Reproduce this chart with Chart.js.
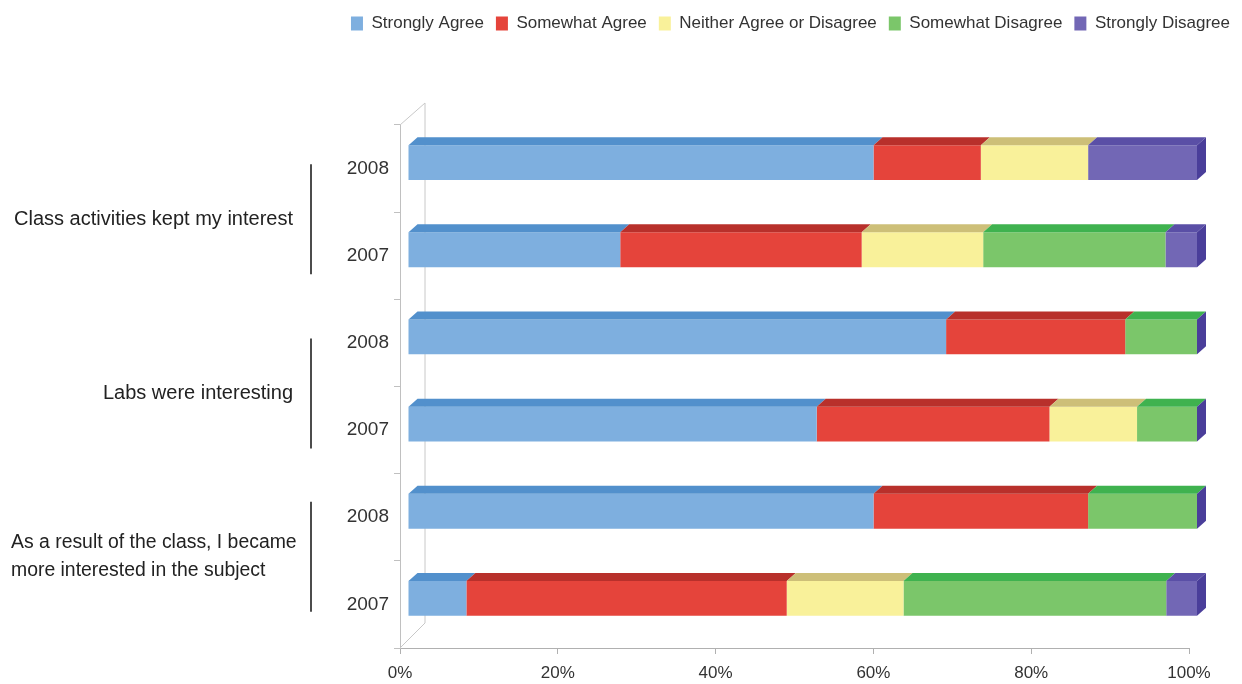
<!DOCTYPE html>
<html>
<head>
<meta charset="utf-8">
<script src="https://cdn.jsdelivr.net/npm/chart.js@4/dist/chart.umd.min.js"></script>
<style>
  body { margin: 0; background: #fff; }
  #wrap { width: 1242px; height: 684px; position: relative; }
</style>
</head>
<body>
<div id="wrap"><canvas id="bar-chart"></canvas></div>
<script>
// years on the axis, questions grouped two years each
const years = ['2008', '2007', '2008', '2007', '2008', '2007'];
const questions = [
  ['Class activities kept my interest'],
  ['Labs were interesting'],
  ['As a result of the class, I became', 'more interested in the subject']
];
const seriesNames = ['Strongly Agree', 'Somewhat Agree', 'Neither Agree or Disagree', 'Somewhat Disagree', 'Strongly Disagree'];

const stronglyAgree     = [59.0, 26.9, 68.2, 51.8, 59.0, 7.4];
const somewhatAgree     = [13.6, 30.6, 22.7, 29.5, 27.2, 40.6];
const neitherAgree      = [13.6, 15.4, 0, 11.1, 0, 14.8];
const somewhatDisagree  = [0, 23.1, 9.1, 7.6, 13.8, 33.3];
const stronglyDisagree  = [13.8, 4.0, 0, 0, 0, 3.9];

const xTicks = [0, 20, 40, 60, 80, 100];

const frontColors = ['#7eafdf', '#e5443b', '#f9f19a', '#7bc66a', '#7267b5'];
const topColors   = ['#5290cc', '#b8302b', '#cdbf78', '#3fb24f', '#5a4fa6'];
const sideColor   = '#4a3e9a';

const FONT = "'Liberation Sans', Arial, sans-serif";
const DX = 9, DY = 8;

const allSeries = [stronglyAgree, somewhatAgree, neitherAgree, somewhatDisagree, stronglyDisagree];

const threeD = {
  id: 'threeD',
  beforeDatasetsDraw(chart) {
    const ctx = chart.ctx, a = chart.chartArea;
    // back wall + floor edge
    ctx.save();
    ctx.strokeStyle = '#c8c8c8';
    ctx.lineWidth = 1;
    ctx.beginPath();
    ctx.moveTo(a.left, a.top);
    ctx.lineTo(a.left + 25, a.top - 22);
    ctx.lineTo(a.left + 25, a.bottom - 25);
    ctx.lineTo(a.left, a.bottom);
    ctx.stroke();
    ctx.restore();
    ctx.save();
    ctx.translate(8, -6);
  },
  afterDatasetsDraw(chart) {
    const ctx = chart.ctx;
    const n = chart.data.datasets.length;
    for (let d = 0; d < n; d++) {
      const meta = chart.getDatasetMeta(d);
      meta.data.forEach(el => {
        const x0 = Math.min(el.x, el.base), x1 = Math.max(el.x, el.base);
        const top = el.y - el.height / 2;
        if (x1 - x0 > 0.5) {
          ctx.fillStyle = topColors[d];
          ctx.beginPath();
          ctx.moveTo(x0, top);
          ctx.lineTo(x1, top);
          ctx.lineTo(x1 + DX, top - DY);
          ctx.lineTo(x0 + DX, top - DY);
          ctx.closePath();
          ctx.fill();
        }
        if (d === n - 1) {
          const bottom = el.y + el.height / 2;
          ctx.fillStyle = sideColor;
          ctx.beginPath();
          ctx.moveTo(x1, top);
          ctx.lineTo(x1 + DX, top - DY);
          ctx.lineTo(x1 + DX, bottom - DY);
          ctx.lineTo(x1, bottom);
          ctx.closePath();
          ctx.fill();
        }
      });
    }
    ctx.restore();
  }
};

// nudges so the question labels sit where the original put them
const groupShift = [7, 7, -4];

const groupLabels = {
  id: 'groupLabels',
  afterDraw(chart) {
    const ctx = chart.ctx, y = chart.scales.y;
    ctx.save();
    ctx.fillStyle = '#222';
    ctx.textBaseline = 'middle';
    questions.forEach((lines, i) => {
      const mid = (y.getPixelForValue(i * 2) + y.getPixelForValue(i * 2 + 1)) / 2 + groupShift[i];
      const lh = 28;
      const multi = lines.length > 1;
      ctx.font = (multi ? '19.4px ' : '20px ') + FONT;
      lines.forEach((l, j) => {
        ctx.textAlign = multi ? 'left' : 'right';
        ctx.fillText(l, multi ? 11 : 293, mid + (j - (lines.length - 1) / 2) * lh);
      });
      ctx.strokeStyle = '#111';
      ctx.lineWidth = 1.5;
      ctx.beginPath();
      ctx.moveTo(311, mid - 55);
      ctx.lineTo(311, mid + 55);
      ctx.stroke();
    });
    ctx.restore();
  }
};

const legendGap = {
  id: 'legendGap',
  beforeInit(chart) {
    const fit = chart.legend.fit;
    chart.legend.fit = function () {
      fit.bind(chart.legend)();
      this.height = 122;
    };
  }
};

new Chart(document.getElementById('bar-chart'), {
  type: 'bar',
  data: {
    labels: years,
    datasets: allSeries.map((vals, i) => ({
      label: seriesNames[i],
      data: vals,
      backgroundColor: frontColors[i],
      borderWidth: 0,
      barPercentage: 0.4,
      categoryPercentage: 1
    }))
  },
  options: {
    indexAxis: 'y',
    responsive: true,
    maintainAspectRatio: false,
    animation: false,
    layout: { padding: { top: 3 } },
    plugins: {
      legend: {
        position: 'top',
        align: 'end',
        labels: {
          boxWidth: 12,
          boxHeight: 14,
          padding: 12,
          color: '#333',
          font: { size: 17, family: FONT }
        }
      },
      tooltip: { enabled: false }
    },
    scales: {
      x: {
        stacked: true,
        min: 0,
        max: 100,
        afterBuildTicks(s) { s.ticks = xTicks.map(v => ({ value: v })); },
        ticks: {
          callback: v => v + '%',
          color: '#333',
          padding: 9,
          font: { size: 17, family: FONT }
        },
        grid: { drawOnChartArea: false, tickLength: 6, color: '#b0b0b0' },
        border: { color: '#b0b0b0' },
        afterFit(s) { s.height = 36; }
      },
      y: {
        stacked: true,
        ticks: {
          color: '#333',
          padding: 5,
          font: { size: 19, family: FONT }
        },
        grid: { drawOnChartArea: false, tickLength: 6, color: '#c0c0c0', offset: true },
        border: { color: '#c0c0c0' },
        afterFit(s) { s.width = 400; }
      },
      y2: {
        type: 'linear',
        position: 'right',
        display: true,
        grid: { display: false },
        border: { display: false },
        ticks: { display: false },
        afterFit(s) { s.width = 53; }
      }
    }
  },
  plugins: [threeD, groupLabels, legendGap]
});
</script>
</body>
</html>
